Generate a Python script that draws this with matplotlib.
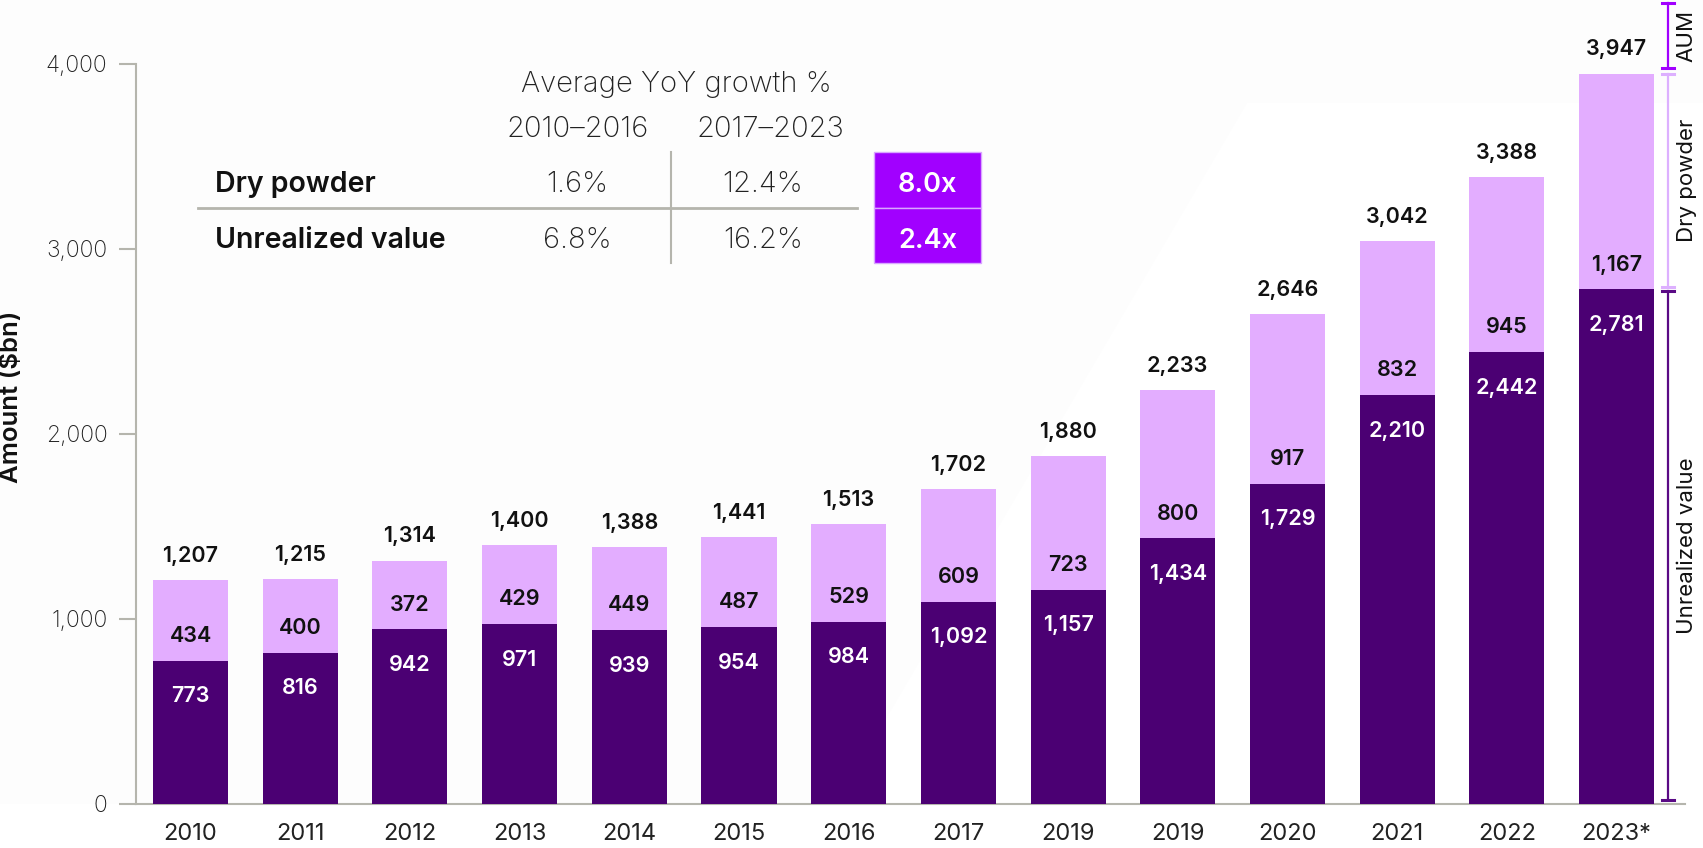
import matplotlib.pyplot as plt
from matplotlib.patches import Polygon, Rectangle
from matplotlib.lines import Line2D

# data
years = ["2010", "2011", "2012", "2013", "2014", "2015", "2016",
         "2017", "2019", "2019", "2020", "2021", "2022", "2023*"]
unrealized = [773, 816, 942, 971, 939, 954, 984, 1092, 1157, 1434, 1729, 2210, 2442, 2781]
dry_powder = [434, 400, 372, 429, 449, 487, 529, 609, 723, 800, 917, 832, 945, 1167]
totals = [1207, 1215, 1314, 1400, 1388, 1441, 1513, 1702, 1880, 2233, 2646, 3042, 3388, 3947]
yticks = [0, 1000, 2000, 3000, 4000]

# growth table
row_labels = ["Dry powder", "Unrealized value"]
period_labels = ["2010\u20132016", "2017\u20132023"]
growth_p1 = ["1.6%", "6.8%"]
growth_p2 = ["12.4%", "16.2%"]
multiples = ["8.0x", "2.4x"]

DARK = "#4B0073"
LIGHT = "#E3ADFF"
PURPLE = "#A100FF"
GRAY = "#B5B5AD"
FONT = "Inter"

W, H = 1703, 848
fig = plt.figure(figsize=(W / 100, H / 100), dpi=100)
plt.rcParams["font.family"] = [FONT, "DejaVu Sans"]


def fx(x):
    return x / W


def fy(y):
    return 1 - y / H


# faint background shape (behind everything)
bg = Polygon([(fx(0), fy(0)), (fx(W), fy(0)), (fx(W), fy(103)), (fx(1247), fy(103)),
              (fx(836), fy(804)), (fx(0), fy(804))],
             closed=True, transform=fig.transFigure, facecolor="#FDFDFD",
             edgecolor="none", zorder=-5)
fig.patches.append(bg)

ax = fig.add_axes([136 / W, (H - 803.5) / H, (1685 - 136) / W, 803.5 / H])
ax.patch.set_alpha(0)

x = list(range(len(years)))
bw = 0.684
ax.bar(x, unrealized, width=bw, color=DARK, zorder=3)
ax.bar(x, dry_powder, width=bw, bottom=unrealized, color=LIGHT, zorder=3)

ax.set_xlim(-0.497, 13.624)
ax.set_ylim(0, 4345.6)

for i in x:
    top = unrealized[i] + dry_powder[i]
    ax.annotate(f"{totals[i]:,}", (i, top), xytext=(0, 13), textcoords="offset points",
                ha="center", va="baseline", fontsize=15.5, fontweight="semibold", color="#111111")
    ax.annotate(f"{dry_powder[i]:,}", (i, unrealized[i]), xytext=(0, 13.5),
                textcoords="offset points", ha="center", va="baseline",
                fontsize=15.5, fontweight="semibold", color="#111111")
    ax.annotate(f"{unrealized[i]:,}", (i, unrealized[i]), xytext=(0, -30),
                textcoords="offset points", ha="center", va="baseline",
                fontsize=15.5, fontweight="semibold", color="white")

# axes styling
for s in ["top", "right"]:
    ax.spines[s].set_visible(False)
ax.spines["left"].set_bounds(0, 4000)
ax.spines["left"].set_color(GRAY)
ax.spines["bottom"].set_color(GRAY)
ax.spines["left"].set_linewidth(1.5)
ax.spines["bottom"].set_linewidth(1.5)
ax.set_yticks(yticks)
ax.set_yticklabels([f"{v:,}" for v in yticks], fontsize=16.5, fontweight="light", color="#222222")
ax.tick_params(axis="y", length=12, width=1.5, color=GRAY, pad=8.5)
ax.set_xticks(x)
ax.set_xticklabels(years, fontsize=17, color="#222222")
ax.tick_params(axis="x", length=0, pad=14)

fig.text(fx(11), fy(397), "Amount ($bn)", rotation=90, ha="center", va="center",
         fontsize=18.5, fontweight="semibold", color="#111111")

# right-hand brackets tied to the last bar
last = len(years) - 1
bx = 13.469
cap = 0.055
brackets = [
    (totals[last] + 30, 4330, PURPLE, "AUM"),
    (unrealized[last] + 15, unrealized[last] + dry_powder[last] - 5, "#DDB0FF", "Dry powder"),
    (20, unrealized[last] - 10, "#5A0A85", "Unrealized value"),
]
for y0, y1, col, lab in brackets:
    ax.plot([bx, bx], [y0, y1], color=col, lw=1.6, clip_on=False, zorder=4)
    ax.plot([bx - cap, bx + cap], [y0, y0], color=col, lw=2.2, clip_on=False, zorder=4)
    ax.plot([bx - cap, bx + cap], [y1, y1], color=col, lw=2.2, clip_on=False, zorder=4)
    ax.text(13.64, (y0 + y1) / 2, lab, rotation=90, ha="center", va="center",
            fontsize=16, color="#111111", clip_on=False)

# growth table
fig.text(fx(676), fy(92), "Average YoY growth %", ha="center", va="baseline",
         fontsize=21, fontweight="light", color="#222222")
fig.text(fx(578), fy(137), period_labels[0], ha="center", va="baseline",
         fontsize=21, fontweight="light", color="#222222")
fig.text(fx(770), fy(137), period_labels[1], ha="center", va="baseline",
         fontsize=21, fontweight="light", color="#222222")

row_base = [192, 248]
for r in range(2):
    yb = row_base[r]
    fig.text(fx(215), fy(yb), row_labels[r], ha="left", va="baseline",
             fontsize=20.5, fontweight="semibold", color="#111111")
    fig.text(fx(577), fy(yb), growth_p1[r], ha="center", va="baseline",
             fontsize=21, fontweight="light", color="#222222")
    fig.text(fx(763), fy(yb), growth_p2[r], ha="center", va="baseline",
             fontsize=21, fontweight="light", color="#222222")

fig.add_artist(Line2D([fx(198), fx(857)], [fy(208), fy(208)], color=GRAY, lw=2))
fig.add_artist(Line2D([fx(671), fx(671)], [fy(152), fy(263)], color=GRAY, lw=1.5))

box_tops = [152, 208]
box_bots = [208, 263]
for r in range(2):
    rect = Rectangle((fx(874), fy(box_bots[r])), fx(981) - fx(874),
                     fy(box_tops[r]) - fy(box_bots[r]), transform=fig.transFigure,
                     facecolor=PURPLE, edgecolor="#D9A6FF", lw=1)
    fig.patches.append(rect)
    fig.text(fx(927.5), fy(row_base[r]), multiples[r], ha="center", va="baseline",
             fontsize=19.5, fontweight="semibold", color="white")

fig.savefig("out.png", dpi=100)
